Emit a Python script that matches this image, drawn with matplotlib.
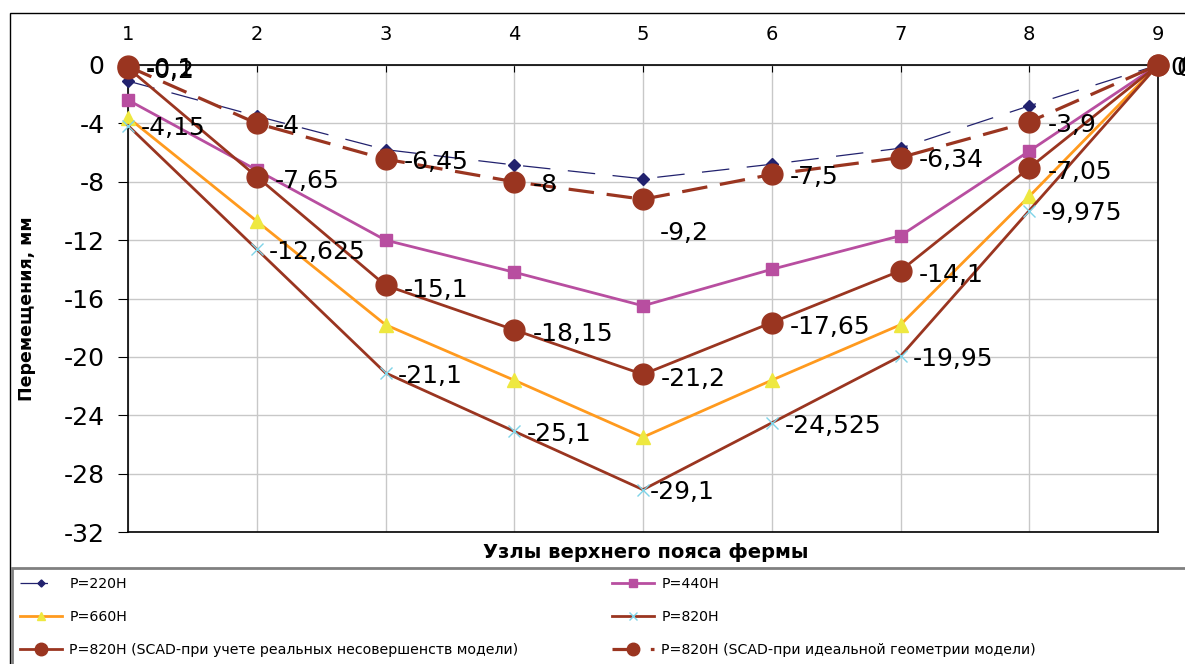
import numpy as np
import matplotlib.pyplot as plt
from matplotlib.patches import Rectangle

plt.rcParams['font.family'] = ['DejaVu Sans']
plt.rcParams['axes.unicode_minus'] = False

# truss top chord nodes
nodes = [1, 2, 3, 4, 5, 6, 7, 8, 9]

# displacements, mm
p220 = [-1.1, -3.5, -5.8, -6.85, -7.8, -6.8, -5.7, -2.8, 0]
p440 = [-2.4, -7.2, -12.0, -14.2, -16.5, -14.0, -11.7, -5.9, 0]
p660 = [-3.6, -10.7, -17.8, -21.6, -25.5, -21.6, -17.8, -9.0, 0]
p820 = [-4.15, -12.625, -21.1, -25.1, -29.1, -24.525, -19.95, -9.975, 0]
scad_real = [-0.2, -7.65, -15.1, -18.15, -21.2, -17.65, -14.1, -7.05, 0]
scad_ideal = [-0.1, -4, -6.45, -8, -9.2, -7.5, -6.34, -3.9, 0]

labels = ["P=220H", "P=440H", "P=660H", "P=820H",
          "P=820H (SCAD-при учете реальных несовершенств модели)",
          "P=820H (SCAD-при идеальной геометрии модели)"]

brown = "#9A3520"
navy = "#22226E"
magenta = "#B84EA0"
orange = "#FF9A1E"
yellow = "#EEE840"
cyan = "#7FD4E8"

fig = plt.figure(figsize=(11.85, 6.64), dpi=100)
ax = fig.add_axes([128/1185, 1-532/664, (1158-128)/1185, (532-65)/664])

h220, = ax.plot(nodes, p220, color=navy, lw=0.9, dashes=(22, 14), marker='D',
                ms=6, mfc=navy, mec=navy, clip_on=False, zorder=3)
h440, = ax.plot(nodes, p440, color=magenta, lw=2, marker='s', ms=9,
                mfc=magenta, mec=magenta, clip_on=False, zorder=3)
h660, = ax.plot(nodes, p660, color=orange, lw=2, marker='^', ms=10,
                mfc=yellow, mec=yellow, clip_on=False, zorder=3)
h820, = ax.plot(nodes, p820, color=brown, lw=2, marker='x', ms=9,
                mec=cyan, mew=1, clip_on=False, zorder=3)
hreal, = ax.plot(nodes, scad_real, color=brown, lw=2, marker='o', ms=15,
                 mfc=brown, mec=brown, clip_on=False, zorder=4)
hideal, = ax.plot(nodes, scad_ideal, color=brown, lw=2.3, dashes=(8, 4),
                  marker='o', ms=15, mfc=brown, mec=brown, clip_on=False, zorder=4)


def fmt(v):
    return ("%g" % v).replace('.', ',')


# value labels, offsets in points
def put_labels(vals, dx, dy, special=None):
    special = special or {}
    for i, (x, v) in enumerate(zip(nodes, vals)):
        ox, oy = special.get(i, (dx, dy))
        ax.annotate(fmt(v), (x, v), xytext=(ox, oy), textcoords='offset points',
                    ha='left', va='center', fontsize=18, annotation_clip=False,
                    zorder=6)


put_labels(p820, 9, -2, {4: (5, -2)})
put_labels(scad_real, 13, -3, {0: (13, -2)})
put_labels(scad_ideal, 13, -2, {4: (12, -24), 8: (16, -1)})

ax.set_xlim(1, 9)
ax.set_ylim(-32, 0)
ax.set_yticks(np.arange(-32, 1, 4))
ax.set_xticks(nodes)
ax.xaxis.tick_top()
ax.tick_params(axis='x', direction='in', length=5, pad=15, labelsize=14)
ax.tick_params(axis='y', direction='out', length=7, pad=10, labelsize=18)
ax.grid(True, color='#C8C8C8', lw=1)
ax.set_axisbelow(True)
for sp in ax.spines.values():
    sp.set_color('black')
    sp.set_linewidth(1.2)

fig.text(27/1185, 1-309/664, "Перемещения, мм", rotation=90, ha='center',
         va='center', fontsize=12.5, fontweight='bold')
fig.text(646/1185, 1-553/664, "Узлы верхнего пояса фермы", ha='center',
         va='center', fontsize=14, fontweight='bold')

# chart border and legend box
fig.patches.append(Rectangle((10/1185, -0.1), 1.2, 1-13/664+0.1, transform=fig.transFigure,
                             fill=False, ec='black', lw=1))
fig.patches.append(Rectangle((12/1185, -0.1), 1.2, 1-568/664+0.1, transform=fig.transFigure,
                             fill=False, ec='#808080', lw=2))

leg_kw = dict(loc='upper left', frameon=False, fontsize=10.2, handlelength=3.0,
              labelspacing=1.35, handletextpad=0.5, borderaxespad=0,
              markerscale=0.6)
fig.legend([h220, h660, hreal], [labels[0], labels[2], labels[4]],
           bbox_to_anchor=(14/1185, 1-571/664), **leg_kw)
fig.legend([h440, h820, hideal], [labels[1], labels[3], labels[5]],
           bbox_to_anchor=(606/1185, 1-571/664), **leg_kw)

fig.savefig("out.png", dpi=100)
